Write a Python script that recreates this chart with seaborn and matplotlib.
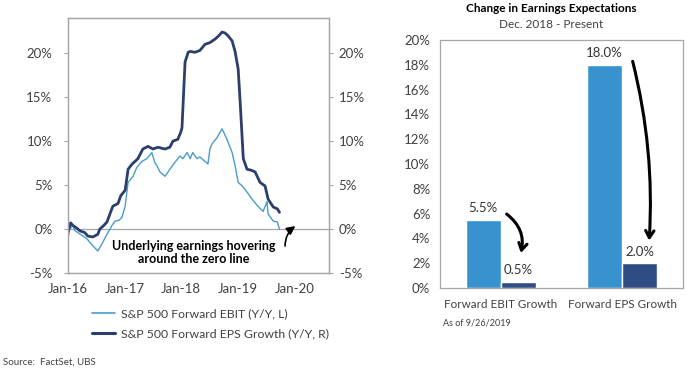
import pandas as pd
import matplotlib
matplotlib.use("Agg")
import matplotlib.pyplot as plt
import matplotlib.dates as mdates
from matplotlib.ticker import FuncFormatter
from matplotlib.lines import Line2D
import seaborn as sns

# left chart data (y/y growth, %)
ebit_dates = ["2016-01-01", "2016-01-15", "2016-02-03", "2016-02-17", "2016-03-06", "2016-04-08",
              "2016-05-03", "2016-06-11", "2016-07-13", "2016-08-08", "2016-09-10", "2016-10-12",
              "2016-11-01", "2016-11-26", "2016-12-15", "2017-01-05", "2017-01-24", "2017-02-25",
              "2017-03-21", "2017-04-23", "2017-05-25", "2017-06-26", "2017-07-16", "2017-07-29",
              "2017-08-17", "2017-09-19", "2017-10-20", "2017-11-22", "2017-12-24", "2018-01-12",
              "2018-02-08", "2018-02-28", "2018-03-16", "2018-04-12", "2018-05-01", "2018-06-03",
              "2018-06-22", "2018-07-05", "2018-07-19", "2018-08-20", "2018-09-21", "2018-10-23",
              "2018-11-25", "2018-12-14", "2019-01-03", "2019-01-29", "2019-03-01", "2019-04-02",
              "2019-05-10", "2019-06-12", "2019-07-01", "2019-07-07", "2019-07-15", "2019-08-17",
              "2019-09-12", "2019-09-26"]
ebit_vals = [-1.1, 0.0, 0.4, -0.2, -0.4, -0.8,
             -1.1, -1.9, -2.5, -1.7, -0.6, 0.4,
             0.9, 1.0, 1.3, 2.6, 5.3, 6.0,
             7.0, 7.7, 8.0, 8.7, 7.5, 7.2,
             6.5, 6.0, 6.8, 7.6, 8.3, 8.0,
             8.7, 8.0, 8.7, 8.0, 8.2, 7.7,
             7.4, 9.1, 9.7, 10.4, 11.4, 10.2,
             8.7, 7.2, 5.3, 4.9, 4.2, 3.4,
             2.6, 2.0, 2.8, 3.1, 1.7, 0.9,
             0.8, 0.0]

eps_dates = ["2016-01-01", "2016-01-20", "2016-02-04", "2016-02-29", "2016-03-19", "2016-04-20",
             "2016-05-09", "2016-06-11", "2016-07-13", "2016-07-26", "2016-08-20", "2016-09-10",
             "2016-10-05", "2016-10-18", "2016-11-20", "2016-12-08", "2017-01-05", "2017-01-24",
             "2017-02-19", "2017-03-10", "2017-03-28", "2017-04-29", "2017-06-01", "2017-07-03",
             "2017-08-04", "2017-09-19", "2017-10-20", "2017-11-09", "2017-12-10", "2017-12-29",
             "2018-01-06", "2018-01-26", "2018-02-15", "2018-02-28", "2018-03-30", "2018-05-01",
             "2018-06-03", "2018-07-05", "2018-08-07", "2018-09-01", "2018-09-21", "2018-10-10",
             "2018-10-29", "2018-11-25", "2018-12-14", "2019-01-03", "2019-01-16", "2019-02-05",
             "2019-03-01", "2019-03-26", "2019-04-22", "2019-05-24", "2019-06-25", "2019-07-15",
             "2019-08-17", "2019-09-12", "2019-09-26"]
eps_vals = [-0.4, 0.7, 0.4, 0.1, -0.2, -0.4,
            -0.8, -0.9, -0.6, 0.0, 0.4, 0.8,
            2.0, 2.6, 2.9, 3.8, 4.4, 6.8,
            7.4, 7.7, 8.0, 9.1, 9.4, 9.1,
            9.3, 9.1, 9.3, 10.0, 10.2, 11.0,
            11.5, 19.0, 20.1, 20.2, 20.1, 20.3,
            21.0, 21.2, 21.6, 22.0, 22.4, 22.3,
            22.0, 21.4, 20.2, 18.2, 14.4, 8.0,
            6.8, 6.7, 6.5, 5.3, 4.9, 3.4,
            2.5, 2.3, 1.9]

# right chart data
categories = ["Forward EBIT Growth", "Forward EPS Growth"]
periods = ["Dec. 2018", "Present"]
dec2018_vals = [5.5, 18.0]
present_vals = [0.5, 2.0]

light_line = "#4a9cc8"
dark_line = "#2c3e6c"
light_bar = "#3892cf"
dark_bar = "#2f4d84"
grey_txt = "#404040"
spine_c = "#a6a6a6"

sns.set_style("white")
plt.rcParams["font.family"] = ["Lato", "DejaVu Sans"]

fig = plt.figure(figsize=(6.96, 3.70), dpi=100)
W, H = 696, 370

def box(x0, y0, x1, y1):
    return [x0 / W, 1 - y1 / H, (x1 - x0) / W, (y1 - y0) / H]

pct = FuncFormatter(lambda v, p: f"{v:.0f}%")

# ---- left chart
ax = fig.add_axes(box(67.7, 18, 329, 273))
ax2 = ax.twinx()
ebit_df = pd.DataFrame({"date": pd.to_datetime(ebit_dates), "val": ebit_vals})
eps_df = pd.DataFrame({"date": pd.to_datetime(eps_dates), "val": eps_vals})
sns.lineplot(data=ebit_df, x="date", y="val", ax=ax, color=light_line, lw=1.0)
sns.lineplot(data=eps_df, x="date", y="val", ax=ax2, color=dark_line, lw=2.0)
for a in (ax, ax2):
    a.set_ylim(-5, 24)
    a.set_yticks([-5, 0, 5, 10, 15, 20])
    a.yaxis.set_major_formatter(pct)
    a.set_xlim(pd.Timestamp("2016-01-01"), pd.Timestamp("2020-08-10"))
    a.set_xlabel("")
    a.set_ylabel("")
    for s in a.spines.values():
        s.set_color(spine_c)
        s.set_linewidth(0.9)
ax.axhline(0, color=spine_c, lw=0.9, zorder=0)
ax.xaxis.set_major_locator(mdates.YearLocator())
ax.xaxis.set_major_formatter(mdates.DateFormatter("%b-%y"))
ax.tick_params(axis="x", length=0, pad=7, labelsize=9.5, labelcolor=grey_txt)
ax.tick_params(axis="y", length=3, color=spine_c, pad=8, labelsize=9.5, labelcolor=grey_txt)
ax2.tick_params(axis="y", length=3, color=spine_c, pad=4, labelsize=9.5, labelcolor=grey_txt)

ax.text(0.483, 0.08, "Underlying earnings hovering\naround the zero line", transform=ax.transAxes,
        ha="center", va="center", fontsize=9, fontweight="bold", color="black", linespacing=1.15)
ax.annotate("", xy=(0.88, 0.19), xytext=(0.832, 0.095), xycoords="axes fraction",
            arrowprops=dict(arrowstyle="-|>,head_length=0.5,head_width=0.25", color="black", lw=1.2,
                            connectionstyle="arc3,rad=-0.3"))

handles = [Line2D([], [], color=light_line, lw=1.2), Line2D([], [], color=dark_line, lw=2.2)]
fig.legend(handles, ["S&P 500 Forward EBIT (Y/Y, L)", "S&P 500 Forward EPS Growth (Y/Y, R)"],
           loc="center left", bbox_to_anchor=(86 / W, 1 - 324 / H), frameon=False, fontsize=8.8,
           handlelength=1.9, handletextpad=0.5, labelspacing=0.75, borderpad=0, labelcolor=grey_txt)
fig.text(3 / W, 1 - 362 / H, "Source:  FactSet, UBS", fontsize=7, color=grey_txt, va="center")

# ---- right chart
bx = fig.add_axes(box(440, 40, 683, 288))
bar_df = pd.DataFrame({
    "category": categories * 2,
    "period": [periods[0]] * 2 + [periods[1]] * 2,
    "value": dec2018_vals + present_vals,
})
sns.barplot(data=bar_df, x="category", y="value", hue="period", ax=bx,
            palette=[light_bar, dark_bar], width=0.58, saturation=1, legend=False)
for c in bx.containers:
    bx.bar_label(c, fmt="%.1f%%", padding=4, fontsize=9.5, color="#333333")
bx.set_ylim(0, 20)
bx.set_xlim(-0.5, 1.5)
bx.set_yticks(range(0, 21, 2))
bx.yaxis.set_major_formatter(pct)
bx.set_xlabel("")
bx.set_ylabel("")
for s in bx.spines.values():
    s.set_color(spine_c)
    s.set_linewidth(0.9)
bx.set_xticks([0.5], minor=True)
bx.tick_params(axis="x", which="major", length=0, pad=8, labelsize=8.4, labelcolor=grey_txt)
bx.tick_params(axis="x", which="minor", length=4, color=spine_c)
bx.tick_params(axis="y", length=3, color=spine_c, pad=4, labelsize=9.5, labelcolor=grey_txt)

bx.annotate("", xy=(0.16, 2.6), xytext=(0.03, 6.1),
            arrowprops=dict(arrowstyle="->,head_length=0.5,head_width=0.3", color="black", lw=2.2,
                            connectionstyle="arc3,rad=-0.35"))
bx.annotate("", xy=(1.22, 3.6), xytext=(1.08, 18.5),
            arrowprops=dict(arrowstyle="->,head_length=0.5,head_width=0.3", color="black", lw=2.2,
                            connectionstyle="arc3,rad=-0.08"))

fig.text(551 / W, 1 - 9 / H, "Change in Earnings Expectations", ha="center", va="center",
         fontsize=8.5, fontweight="bold", color="black")
fig.text(551 / W, 1 - 24 / H, "Dec. 2018 - Present", ha="center", va="center",
         fontsize=8.5, color=grey_txt)
fig.text(443 / W, 1 - 323 / H, "As of 9/26/2019", fontsize=6.5, color=grey_txt, va="center")

fig.savefig("out.png", dpi=100)
